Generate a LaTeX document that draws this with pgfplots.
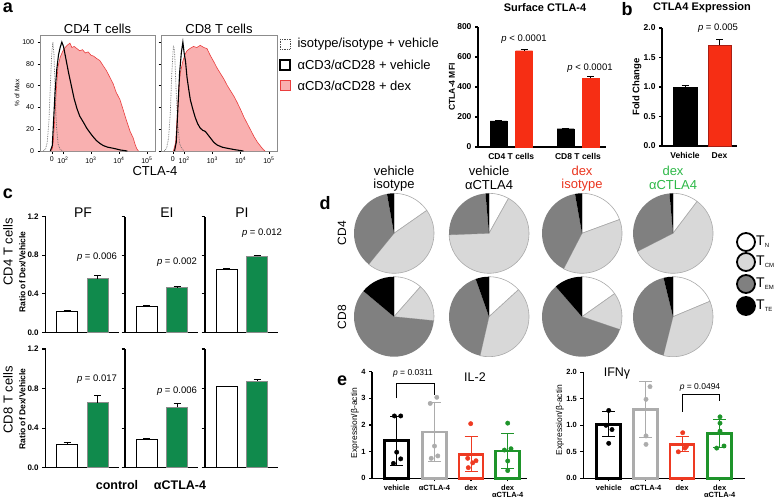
\documentclass[border=0pt]{standalone}
\usepackage{pgfplots}
\pgfplotsset{compat=1.18}
\usepackage{fontspec}
\setmainfont{Liberation Sans}

\definecolor{hred}{RGB}{234,62,62}
\definecolor{hpink}{RGB}{249,176,176}
\definecolor{bred}{RGB}{246,46,20}
\definecolor{bredd}{RGB}{170,30,20}
\definecolor{cgreen}{RGB}{16,138,76}
\definecolor{ered}{RGB}{238,58,34}
\definecolor{egreen}{RGB}{30,148,42}
\definecolor{egray}{RGB}{172,172,172}
\definecolor{pielight}{RGB}{216,216,216}
\definecolor{piedark}{RGB}{128,128,128}
\definecolor{pieedge}{RGB}{170,170,170}
\definecolor{tred}{RGB}{234,52,30}
\definecolor{tgreen}{RGB}{46,184,72}

\newcommand{\fs}[1]{\fontsize{#1}{#1}\selectfont}

% pie: centre x, centre y, then T_N, T_CM, T_EM, T_TE in percent (clockwise from top)
\newcommand{\pie}[6]{%
  \filldraw[fill=white, draw=pieedge, line width=0.6pt] (axis cs:#1,#2) -- ++(90:40pt)
    arc[start angle=90, end angle={90-3.6*(#3)}, radius=40pt] -- cycle;
  \filldraw[fill=pielight, draw=pieedge, line width=0.6pt] (axis cs:#1,#2) -- ++({90-3.6*(#3)}:40pt)
    arc[start angle={90-3.6*(#3)}, end angle={90-3.6*(#3+#4)}, radius=40pt] -- cycle;
  \fill[piedark] (axis cs:#1,#2) -- ++({90-3.6*(#3+#4)}:40pt)
    arc[start angle={90-3.6*(#3+#4)}, end angle={90-3.6*(#3+#4+#5)}, radius=40pt] -- cycle;
  \fill[black] (axis cs:#1,#2) -- ++({90-3.6*(#3+#4+#5)}:40pt)
    arc[start angle={90-3.6*(#3+#4+#5)}, end angle=-270, radius=40pt] -- cycle;
}

\pgfplotsset{
  px/.style={scale only axis, anchor=south west, clip=false,
    /pgf/number format/assume math mode=true},
  hist/.style={px, width=115pt, height=116pt, xmin=1.18, xmax=5.29, ymin=0, ymax=106.5,
    axis line style={black!45, line width=0.5pt},
    tick align=outside, tick pos=left, major tick length=2.5pt,
    tick style={black, line width=0.5pt},
    xtick={1.6,2,3,4,5},
    xticklabels={0,10\textsuperscript{2},10\textsuperscript{3},10\textsuperscript{4},10\textsuperscript{5}},
    ytick={0,20,...,100},
    ticklabel style={font=\fs{7}}},
  gp/.style={px, axis x line*=bottom, axis y line*=left,
    axis line style={line width=1.1pt}, tick align=outside,
    ytick style={black, line width=1.1pt}, xtick style={draw=none}, major tick length=3pt,
    ticklabel style={font=\bfseries\fs{8.5}}},
  bb/.style={ybar, bar shift=0pt, bar width=#1},
  ebar/.style={error bars/.cd, y dir=plus, y explicit,
    error bar style={black, line width=1pt},
    error mark options={rotate=90, mark size=3.5pt, line width=1pt, black}},
  cst/.style={px, width=73pt, xmin=0, xmax=73, ymin=0, ymax=1.2, ytick={0,0.4,0.8,1.2},
    axis x line*=bottom, axis y line*=left, axis line style={line width=1.3pt},
    xtick=\empty, tick align=outside, major tick length=3.5pt,
    ytick style={black, line width=1.2pt},
    yticklabel style={font=\bfseries\fs{8}, /pgf/number format/.cd, fixed, fixed zerofill, precision=1}},
  est/.style={px, axis x line*=bottom, axis y line*=left, axis line style={line width=1.4pt},
    tick align=outside, major tick length=3pt, tick style={black, line width=1.1pt},
    ticklabel style={font=\bfseries\fs{7.5}}, xticklabel style={align=center},
    xticklabels={vehicle, αCTLA-4, dex, {dex\\αCTLA-4}}},
  eb/.style={ybar, bar shift=0pt, bar width=24, fill=white, draw=#1, line width=2.6pt,
    error bars/.cd, y dir=both, y explicit, error bar style={#1, line width=1pt},
    error mark options={rotate=90, #1, mark size=6.5pt, line width=1pt}},
  ept/.style={only marks, mark=*, mark size=2.2pt, color=#1},
}

\begin{document}
\begin{tikzpicture}
\path[use as bounding box] (0pt,0pt) rectangle (778pt,-500pt);

%% ---------- panel a: histograms ----------
\begin{axis}[hist, at={(40pt,-151pt)}]
\addplot[fill=hpink, draw=hred, line width=0.6pt] coordinates {
(1.55,0) (1.62,2) (1.66,10) (1.71,31) (1.76,55) (1.82,77) (1.9,86) (2.0,92) (2.08,95)
(2.15,97) (2.25,99) (2.32,95) (2.4,96) (2.5,94) (2.6,92) (2.7,93) (2.8,90) (2.9,91)
(3.0,88) (3.1,87) (3.2,85) (3.32,83) (3.42,79) (3.55,74) (3.65,69) (3.79,62) (3.9,54)
(4.04,47) (4.15,38) (4.27,28) (4.4,18) (4.51,12) (4.58,6) (4.64,2) (4.7,0)};
\addplot[black!60, densely dotted, line width=0.7pt] coordinates {
(1.3,0) (1.38,2) (1.44,8) (1.5,28) (1.55,60) (1.6,90) (1.64,100) (1.68,88) (1.72,55)
(1.77,22) (1.83,6) (1.9,1.5) (2.0,0)};
\addplot[black, line width=1.1pt] coordinates {
(1.55,0) (1.62,5) (1.66,25) (1.72,55) (1.78,75) (1.84,88) (1.9,95) (1.96,100) (2.02,96)
(2.08,88) (2.14,80) (2.2,72) (2.3,60) (2.4,48) (2.5,39) (2.6,32) (2.74,26) (2.85,21)
(2.96,17) (3.08,13) (3.2,9.5) (3.32,7) (3.44,5) (3.6,3.5) (3.8,2.5) (4.04,1) (4.3,0)};
\end{axis}

\begin{axis}[hist, at={(161pt,-151pt)}, width=116pt, yticklabels={}]
\addplot[fill=hpink, draw=hred, line width=0.6pt] coordinates {
(1.62,0) (1.7,8) (1.76,35) (1.81,58) (1.86,71) (1.95,82) (2.02,88) (2.1,92) (2.2,94)
(2.33,96) (2.45,95) (2.57,97) (2.7,95) (2.81,94) (2.92,88) (3.05,82) (3.17,76) (3.29,71)
(3.41,66) (3.53,60) (3.65,55) (3.77,50) (3.89,44) (4.0,38) (4.12,31) (4.24,25) (4.36,19)
(4.48,13) (4.6,8) (4.72,4) (4.8,1.5) (4.86,0)};
\addplot[black!60, densely dotted, line width=0.7pt] coordinates {
(1.3,0) (1.38,3) (1.45,12) (1.51,35) (1.56,70) (1.62,97) (1.66,92) (1.71,60) (1.77,25)
(1.84,7) (1.92,2) (2.0,0)};
\addplot[black, line width=1.1pt] coordinates {
(1.66,0) (1.72,8) (1.78,40) (1.84,72) (1.9,90) (1.955,100) (2.0,90) (2.05,82) (2.1,68)
(2.16,57) (2.22,47) (2.3,39) (2.39,31) (2.48,25) (2.57,21) (2.66,19) (2.75,18) (2.84,15)
(2.93,12) (3.05,8) (3.17,5.5) (3.35,3.5) (3.53,2.5) (3.8,1.2) (4.1,0)};
\end{axis}

%% ---------- panel a: surface CTLA-4 ----------
\begin{axis}[gp, at={(478pt,-147pt)}, width=128pt, height=120pt, xmin=0, xmax=128,
  ymin=0, ymax=800, ytick={0,200,...,800}, xtick={33.25,100},
  xticklabels={CD4 T cells, CD8 T cells}]
\addplot[bb=17, fill=black, draw=black, ebar] coordinates {(20.5,175) +- (0,4) (87.5,122) +- (0,3)};
\addplot[bb=17, fill=bred, draw=bred, ebar] coordinates {(46,642) +- (0,6) (112.5,458) +- (0,10)};
\end{axis}

%% ---------- panel b ----------
\begin{axis}[gp, at={(662pt,-146pt)}, width=75pt, height=118pt, xmin=0, xmax=75,
  ymin=0, ymax=2, ytick={0,0.5,1,1.5,2}, xtick={23,57.5}, xticklabels={Vehicle,Dex},
  yticklabel style={/pgf/number format/.cd, fixed, fixed zerofill, precision=1}]
\addplot[bb=24, fill=black, draw=black, ebar] coordinates {(23,1.0) +- (0,0.02)};
\addplot[bb=23, fill=bred, draw=bredd, line width=0.8pt, ebar] coordinates {(57.5,1.71) +- (0,0.1)};
\end{axis}

%% ---------- panel c ----------
\begin{axis}[cst, at={(45.7pt,-332.3pt)}, height=115.6pt]
\addplot[bb=21, fill=white, draw=black, line width=0.9pt, ebar] coordinates {(21.5,0.214) +- (0,0.01)};
\addplot[bb=21, fill=cgreen, draw=black!45, line width=0.6pt, ebar] coordinates {(52,0.557) +- (0,0.028)};
\end{axis}
\begin{axis}[cst, at={(125pt,-332.3pt)}, height=115.6pt, yticklabels={}]
\addplot[bb=21, fill=white, draw=black, line width=0.9pt, ebar] coordinates {(21.5,0.266) +- (0,0.008)};
\addplot[bb=21, fill=cgreen, draw=black!45, line width=0.6pt, ebar] coordinates {(52,0.47) +- (0,0.004)};
\end{axis}
\begin{axis}[cst, at={(205pt,-332.3pt)}, height=115.6pt, yticklabels={}]
\addplot[bb=21, fill=white, draw=black, line width=0.9pt, ebar] coordinates {(21.5,0.655) +- (0,0.01)};
\addplot[bb=21, fill=cgreen, draw=black!45, line width=0.6pt, ebar] coordinates {(52,0.79) +- (0,0.012)};
\end{axis}
\begin{axis}[cst, at={(45.7pt,-467.7pt)}, height=118.7pt]
\addplot[bb=21, fill=white, draw=black, line width=0.9pt, ebar] coordinates {(21.5,0.24) +- (0,0.01)};
\addplot[bb=21, fill=cgreen, draw=black!45, line width=0.6pt, ebar] coordinates {(52,0.657) +- (0,0.075)};
\end{axis}
\begin{axis}[cst, at={(125pt,-467.7pt)}, height=118.7pt, yticklabels={}]
\addplot[bb=21, fill=white, draw=black, line width=0.9pt, ebar] coordinates {(21.5,0.287) +- (0,0.006)};
\addplot[bb=21, fill=cgreen, draw=black!45, line width=0.6pt, ebar] coordinates {(52,0.61) +- (0,0.04)};
\end{axis}
\begin{axis}[cst, at={(205pt,-467.7pt)}, height=118.7pt, yticklabels={}]
\addplot[bb=21, fill=white, draw=black, line width=0.9pt, ebar] coordinates {(21.5,0.82) +- (0,0.004)};
\addplot[bb=21, fill=cgreen, draw=black!45, line width=0.6pt, ebar] coordinates {(52,0.877) +- (0,0.012)};
\end{axis}

%% ---------- panel d: pies ----------
\begin{axis}[px, at={(0pt,-500pt)}, width=778pt, height=500pt, xmin=0, xmax=778,
  ymin=0, ymax=500, hide axis]
\pie{394}{266.7}{15.3}{45.6}{36.3}{2.8}
\pie{489}{266.7}{8.1}{66.3}{24.2}{1.4}
\pie{582}{266.7}{19.4}{38.2}{39.6}{2.8}
\pie{673}{266.7}{10.3}{57.2}{31.1}{1.4}
\pie{394}{183.3}{11.5}{15.1}{59.5}{13.9}
\pie{489}{183.3}{13.2}{40.4}{41.0}{5.4}
\pie{582}{183.3}{15.2}{15.0}{58.4}{11.4}
\pie{673}{183.3}{18.7}{35.2}{42.3}{3.8}
\end{axis}

%% ---------- panel e: IL-2 ----------
\begin{axis}[est, at={(372pt,-478.3pt)}, width=155pt, height=106.6pt, xmin=0, xmax=155,
  ymin=0, ymax=4, ytick={0,1,2,3,4}, xtick={24.7,62.5,99,135.7}]
\addplot[eb=black] coordinates {(24.7,1.41) +- (0,0.92)};
\addplot[eb=egray] coordinates {(62.5,1.74) +- (0,1.11)};
\addplot[eb=ered] coordinates {(99,0.90) +- (0,0.66)};
\addplot[eb=egreen] coordinates {(135.7,1.02) +- (0,0.67)};
\addplot[ept=black] coordinates {(22.4,2.34) (28.7,2.34) (24.7,0.98) (28.7,0.73) (21.4,0.56)};
\addplot[ept=egray] coordinates {(64.8,3.04) (58.2,2.81) (62.5,1.21) (65.8,0.84) (59.2,0.75)};
\addplot[ept=ered] coordinates {(98.7,2.05) (95.7,0.75) (104,0.66) (100.7,0.58) (96.3,0.40)};
\addplot[ept=egreen] coordinates {(135.7,2.07) (132.4,1.06) (139,1.11) (135.7,0.65) (135.7,0.29)};
\addplot[black, line width=0.8pt] coordinates {(24.7,3.01) (24.7,3.56) (62.5,3.56) (62.5,3.13)};
\end{axis}

%% ---------- panel e: IFN-gamma ----------
\begin{axis}[est, at={(583.3pt,-478.3pt)}, width=161.7pt, height=106pt, xmin=0, xmax=161.7,
  ymin=0, ymax=2, ytick={0,0.5,1,1.5,2}, xtick={25.4,62.4,98.7,136.4},
  yticklabel style={/pgf/number format/.cd, fixed, fixed zerofill, precision=1}]
\addplot[eb=black] coordinates {(25.4,1.02) +- (0,0.24)};
\addplot[eb=egray] coordinates {(62.4,1.30) +- (0,0.53)};
\addplot[eb=ered] coordinates {(98.7,0.64) +- (0,0.14)};
\addplot[eb=egreen] coordinates {(136.4,0.85) +- (0,0.26)};
\addplot[ept=black] coordinates {(25.4,1.28) (22.7,1.00) (28.7,0.92) (25.4,0.66)};
\addplot[ept=egray] coordinates {(66.7,1.73) (62.7,1.49) (62.7,0.80) (62.7,0.64)};
\addplot[ept=ered] coordinates {(99.4,0.86) (101.7,0.57) (95,0.50) (103,0.60)};
\addplot[ept=egreen] coordinates {(136.7,1.16) (136.7,1.04) (136.7,0.89) (133.4,0.57) (140.7,0.61)};
\addplot[black, line width=0.8pt] coordinates {(98.7,1.257) (98.7,1.59) (136.4,1.59) (136.4,1.46)};
\end{axis}

%% ---------- texts ----------
\node[font=\bfseries\fs{18}] at (8pt,-8pt) {a};
\node[font=\bfseries\fs{18}] at (627pt,-9pt) {b};
\node[font=\bfseries\fs{18}] at (8pt,-194pt) {c};
\node[font=\bfseries\fs{18}] at (325pt,-203pt) {d};
\node[font=\bfseries\fs{18}] at (342pt,-381pt) {e};

\node[font=\fs{13}] at (97.5pt,-29pt) {CD4 T cells};
\node[font=\fs{13}] at (219pt,-29pt) {CD8 T cells};
\node[font=\fs{6.5}, rotate=90] at (17pt,-93pt) {\% of Max};
\node[font=\fs{13}] at (155pt,-171pt) {CTLA-4};
\draw[black!70, densely dotted, line width=0.7pt] (280pt,-39pt) rectangle (290pt,-49pt);
\draw[black, line width=1.1pt] (280pt,-60pt) rectangle (290pt,-70pt);
\draw[hred, fill=hpink, line width=1pt] (280pt,-81pt) rectangle (290pt,-91pt);
\node[anchor=west, font=\fs{13}] at (294pt,-44pt) {isotype/isotype + vehicle};
\node[anchor=west, font=\fs{13}] at (294pt,-65pt) {αCD3/αCD28 + vehicle};
\node[anchor=west, font=\fs{13}] at (294pt,-86pt) {αCD3/αCD28 + dex};

\node[font=\bfseries\fs{11}] at (545pt,-8pt) {Surface CTLA-4};
\node[font=\bfseries\fs{8.5}, rotate=90] at (452pt,-87pt) {CTLA-4 MFI};
\node[font=\fs{9.5}] at (524pt,-39pt) {\textit{p} < 0.0001};
\node[font=\fs{9.5}] at (590pt,-68pt) {\textit{p} < 0.0001};

\node[font=\bfseries\fs{11}] at (702pt,-8pt) {CTLA4 Expression};
\node[font=\bfseries\fs{9.5}, rotate=90] at (637pt,-87pt) {Fold Change};
\node[font=\fs{9.5}] at (718pt,-28pt) {\textit{p} = 0.005};

\node[font=\fs{14}] at (83pt,-213pt) {PF};
\node[font=\fs{14}] at (167pt,-213pt) {EI};
\node[font=\fs{14}] at (242pt,-213pt) {PI};
\node[font=\fs{13}, rotate=90] at (8pt,-252pt) {CD4 T cells};
\node[font=\bfseries\fs{8.5}, rotate=90] at (22.5pt,-272pt) {Ratio of Dex/Vehicle};
\node[font=\fs{13}, rotate=90] at (8pt,-400pt) {CD8 T cells};
\node[font=\bfseries\fs{8.5}, rotate=90] at (22.5pt,-409pt) {Ratio of Dex/Vehicle};
\node[font=\fs{9.5}] at (97pt,-257pt) {\textit{p} = 0.006};
\node[font=\fs{9.5}] at (177pt,-262pt) {\textit{p} = 0.002};
\node[font=\fs{9.5}] at (262pt,-233pt) {\textit{p} = 0.012};
\node[font=\fs{9.5}] at (97pt,-379pt) {\textit{p} = 0.017};
\node[font=\fs{9.5}] at (177pt,-391pt) {\textit{p} = 0.006};
\node[font=\bfseries\fs{12.5}] at (117pt,-485pt) {control};
\node[font=\bfseries\fs{12.5}] at (180pt,-485pt) {αCTLA-4};

\node[font=\fs{13}] at (394pt,-171pt) {vehicle};
\node[font=\fs{13}] at (394pt,-185pt) {isotype};
\node[font=\fs{13}] at (489pt,-171pt) {vehicle};
\node[font=\fs{13}] at (489pt,-185pt) {αCTLA4};
\node[font=\fs{13}, text=tred] at (582pt,-171pt) {dex};
\node[font=\fs{13}, text=tred] at (582pt,-185pt) {isotype};
\node[font=\fs{13}, text=tgreen] at (673pt,-171pt) {dex};
\node[font=\fs{13}, text=tgreen] at (673pt,-185pt) {αCTLA4};
\node[font=\fs{12}, rotate=90] at (342pt,-233pt) {CD4};
\node[font=\fs{12}, rotate=90] at (342pt,-317pt) {CD8};
\draw[line width=1.8pt, fill=white] (746pt,-242pt) circle[radius=9pt];
\draw[line width=1.8pt, fill=pielight] (746pt,-262pt) circle[radius=9pt];
\draw[line width=1.8pt, fill=piedark] (746pt,-284pt) circle[radius=9pt];
\draw[line width=1.8pt, fill=black] (746pt,-306pt) circle[radius=9pt];
\node[anchor=west, font=\fs{14}, inner sep=0pt] at (756pt,-242pt) {T\textsubscript{\fs{6}N}};
\node[anchor=west, font=\fs{14}, inner sep=0pt] at (756pt,-262pt) {T\textsubscript{\fs{6}CM}};
\node[anchor=west, font=\fs{14}, inner sep=0pt] at (756pt,-284pt) {T\textsubscript{\fs{6}EM}};
\node[anchor=west, font=\fs{14}, inner sep=0pt] at (756pt,-306pt) {T\textsubscript{\fs{6}TE}};

\node[font=\fs{8.5}] at (413pt,-373pt) {\textit{p} = 0.0311};
\node[font=\fs{12.5}] at (475pt,-377pt) {IL-2};
\node[font=\fs{8.5}, rotate=90] at (355pt,-423pt) {Expression/β-actin};
\node[font=\fs{8.5}, rotate=90] at (560pt,-420pt) {Expression/β-actin};
\node[font=\fs{12.5}] at (617pt,-373pt) {IFNγ};
\node[font=\fs{8.5}] at (700pt,-387pt) {\textit{p} = 0.0494};
\end{tikzpicture}
\end{document}
